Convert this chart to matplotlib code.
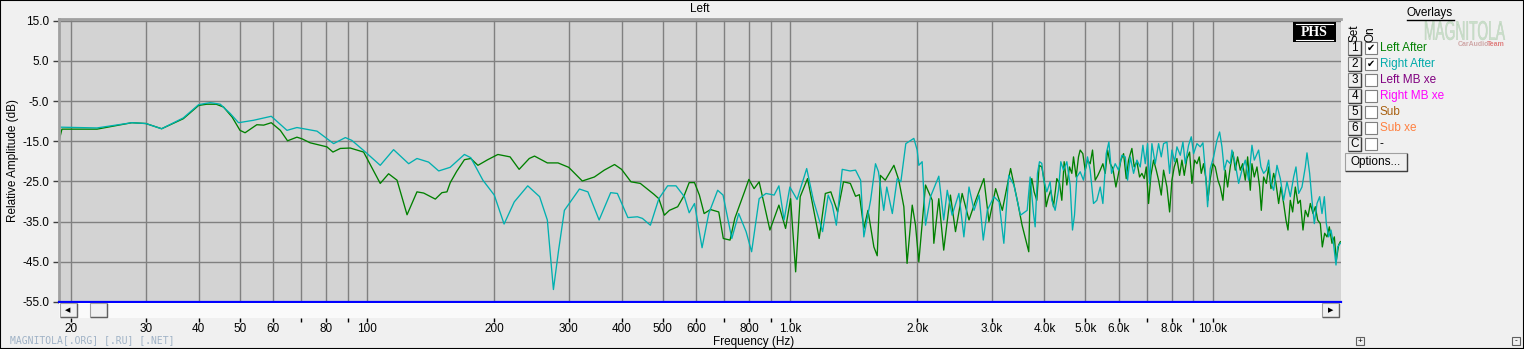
import matplotlib
matplotlib.use('Agg')
import matplotlib.pyplot as plt
from matplotlib.patches import Rectangle, PathPatch
from matplotlib.lines import Line2D
from matplotlib.ticker import NullLocator
from matplotlib.textpath import TextPath
from matplotlib.font_manager import FontProperties
from matplotlib.transforms import Affine2D

# ---------------- data ----------------
left_freq = [18.7, 19.0, 23.0, 27.8, 30.0, 32.7, 36.8, 40.0, 41.8, 44.0, 45.8, 48.0, 50.1, 51.5,
             54.9, 57.0, 59.4, 62.4, 64.9, 68.3, 70.2, 73.4, 80.4, 83.1, 86.5, 91.3, 98.2, 107.5,
             112.5, 117.8, 124.4, 131.3, 136.2, 145.1, 150.4, 154.6, 157.4, 163, 170, 176, 183,
             193, 204, 218, 229, 242, 249, 267, 283, 300, 323, 345, 364, 385, 400, 421, 443, 477,
             490, 505, 519, 543, 563, 578, 595, 611, 627, 649, 679, 696, 722, 741, 781, 800, 823,
             846, 897, 942, 977, 1004, 1032, 1058, 1101, 1127, 1173, 1213, 1250, 1297, 1339, 1390,
             1430, 1460, 1496, 1530, 1580, 1609, 1637, 1681, 1762, 1810, 1860, 1893, 1947, 1982,
             2018, 2093, 2171, 2190, 2250, 2311, 2397, 2464, 2555, 2652, 2751, 2876, 2956, 3066,
             3180, 3326, 3449, 3541, 3672,
             3700, 3733, 3781, 3836, 3886, 3942, 3993, 4036, 4088, 4140, 4201, 4278, 4341, 4396,
             4452, 4518, 4584, 4642, 4685, 4753, 4814, 4858, 4929, 4992, 5056, 5130, 5196, 5272,
             5349, 5418, 5497, 5568, 5639, 5721, 5805, 5901, 5987, 6064, 6153, 6243, 6322, 6438,
             6520, 6616, 6713, 6799, 6886, 6961, 7050, 7140, 7245, 7351, 7445, 7554, 7650, 7791,
             7905, 8006, 8108, 8227, 8347, 8454, 8562, 8687, 8814, 8927, 9058, 9174, 9291, 9392,
             9512, 9634, 9740, 9864, 10009, 10137, 10285, 10417, 10569, 10704, 10841, 11000, 11161,
             11304, 11448, 11616, 11765, 11937, 12090, 12266, 12378, 12536, 12720, 12906, 13024,
             13190, 13384, 13555, 13728, 13929, 14107, 14314, 14497, 14709, 14897, 15060, 15252,
             15448, 15674, 15903, 16106, 16342, 16551, 16793, 17008, 17257, 17478, 17701, 17960,
             18156, 18389, 18624, 18862, 19138, 19383, 19596, 19846, 20027]
left_db = [-15.0, -12.0, -12.0, -10.4, -10.6, -11.9, -9.4, -6.1, -5.8, -5.8, -6.5, -9.0, -12.3, -12.9,
           -10.9, -11.0, -10.4, -12.3, -14.9, -14.0, -14.4, -15.4, -16.4, -17.7, -16.8, -16.7, -17.7, -25.5,
           -23.1, -24.7, -33.3, -27.6, -27.9, -29.4, -27.8, -27.6, -25.3, -22.5, -19.6, -19.3, -21.0,
           -19.6, -18.3, -18.9, -22.0, -19.3, -18.7, -20.4, -20.4, -21.5, -24.9, -23.9, -22.2, -20.8, -22.0, -25.1, -25.5, -28.2,
           -29.3, -33.4, -32.2, -31.3, -28.4, -25.3, -25.3, -28.4, -33.0, -32.0, -32.6, -39.2, -39.6, -34.2, -27.6, -24.5, -26.8,
           -25.1, -37.1, -30.9, -36.7, -29.3, -47.5, -28.8, -24.3, -29.7, -39.2, -28.0, -27.6, -32.6, -25.1, -25.5,
           -28.7, -28.3, -36.7, -32.2, -41.3, -43.5, -23.5, -24.7, -21.0, -24.7, -31.3, -45.4, -30.9, -35.9,
           -45.0, -25.9, -29.7, -40.4, -29.3, -42.1, -28.4, -37.5, -28.0, -34.6, -29.7, -24.3, -35.0, -26.8,
           -32.2, -21.8, -29.7, -35.9, -42.5,
           -27.2, -24.3, -27.6, -29.7, -21.0, -21.4, -24.7, -31.3, -28.8, -27.2, -31.3, -24.3, -25.5, -29.7,
           -20.1, -25.9, -21.4, -23.0, -18.9, -23.9, -18.9, -17.2, -18.1, -22.2, -19.7, -20.6, -17.2, -24.7,
           -23.5, -22.2, -20.6, -23.0, -17.2, -20.6, -21.8, -26.4, -23.0, -19.7, -18.1, -24.3, -19.7, -16.8,
           -21.4, -20.1, -23.9, -23.0, -24.3, -21.4, -30.5, -23.5, -19.7, -22.2, -24.7, -28.4, -22.2, -26.4,
           -32.6, -24.7, -21.4, -19.3, -23.5, -19.7, -23.5, -19.3, -17.7, -25.5, -19.7, -20.6, -18.9, -23.0,
           -20.6, -24.3, -29.7, -24.3, -20.6, -21.4, -24.7, -26.4, -29.7, -22.2, -26.4, -21.4, -17.7,
           -22.2, -18.9, -22.2, -20.6, -24.7, -18.9, -27.2, -20.6, -23.9, -21.4, -26.4, -32.2,
           -23.9, -25.5, -21.4, -26.8, -23.0, -25.5, -30.5, -26.4, -30.5, -34.6, -37.1, -29.7,
           -32.6, -26.4, -30.5, -29.7, -37.1, -32.2, -33.8, -30.5, -33.0, -31.3, -34.6, -35.5,
           -41.3, -37.9, -38.8, -36.3, -40.4, -38.8, -44.6, -40.8, -40.0]

right_freq = [18.7, 23.0, 27.8, 30.0, 32.7, 36.8, 40.0, 42.6, 45.0, 47.5, 49.7, 53.9, 59.4, 64.7,
              68.3, 76.2, 83.4, 88.9, 92.1, 98.2, 107.5, 115.6, 125.5, 131.3, 139.9, 147.8, 157.3,
              170, 176, 188, 200, 211, 223, 240, 256, 267, 276, 284, 293, 318, 333, 354, 377, 391,
              414, 436, 448, 468, 490, 514, 538, 563, 578, 595, 620, 643, 675, 695, 729, 757, 788,
              812, 846, 878, 918, 942, 969, 1000, 1040, 1096, 1137, 1195, 1232, 1260, 1288, 1330,
              1388, 1430, 1470, 1496, 1552, 1594, 1620, 1667, 1695, 1747, 1794, 1830, 1880, 1964,
              2000, 2018, 2055, 2093, 2151, 2250, 2311, 2356, 2419, 2510, 2579, 2652, 2726, 2802,
              2866, 2930, 3038, 3124, 3206, 3293, 3386, 3510, 3640,
              3700, 3768, 3802, 3850, 3893, 3942, 3978, 4051, 4125, 4163, 4239, 4317, 4372, 4436,
              4518, 4600, 4659, 4710, 4771, 4858, 4947, 5056, 5130, 5224, 5320, 5418, 5497, 5598,
              5680, 5763, 5879, 5987, 6097, 6209, 6288, 6380, 6497, 6616, 6737, 6836, 6923, 7012,
              7089, 7179, 7311, 7445, 7554, 7650, 7791, 7905, 8006, 8123, 8227, 8378, 8500, 8609,
              8766, 8895, 9008, 9174, 9342, 9478, 9600, 9722, 9864, 10045, 10229, 10379, 10512,
              10646, 10802, 11000, 11100, 11304, 11511, 11722, 11937, 12156, 12378, 12536, 12836,
              13000, 13190, 13384, 13555, 13728, 13929, 14184, 14444, 14709, 14978, 15252, 15532,
              15730, 15960, 16253, 16551, 16702, 16946, 17163, 17382, 17637, 17895, 18124, 18356,
              18557, 18794, 19034, 19313, 19560, 19738, 20027]
right_db = [-11.5, -11.7, -10.4, -10.6, -11.9, -9.2, -5.9, -5.4, -5.8, -8.1, -10.4, -9.8, -8.8, -12.3,
            -11.6, -12.5, -15.6, -14.1, -14.8, -17.3, -21.0, -17.1, -20.6, -19.3, -20.2, -22.4, -21.5,
            -18.3, -19.1, -24.7, -28.4, -35.6, -30.1, -26.1, -28.8, -34.6, -51.9, -42.0, -32.2, -26.9, -27.6, -34.6, -27.8, -28.0,
            -34.0, -33.8, -34.2, -35.9, -29.3, -26.1, -26.1, -28.8, -32.8, -30.5, -41.5, -33.0, -27.2, -28.4, -39.2, -33.0, -37.5,
            -42.5, -29.3, -28.0, -28.4, -26.1, -34.6, -26.4, -29.5, -21.8, -29.7, -37.5, -28.4, -30.9, -35.9, -22.0,
            -22.4, -22.2, -24.7, -38.8, -29.7, -20.6, -22.6, -32.2, -26.4, -33.0, -24.3, -25.1, -15.6, -14.3,
            -17.2, -21.0, -20.1, -35.9, -28.8, -23.7, -34.6, -27.2, -33.4, -28.0, -38.8, -26.4, -32.2, -28.4,
            -39.6, -32.2, -28.8, -30.1, -40.4, -23.5, -25.9, -33.4, -32.2,
            -23.9, -33.0, -36.3, -23.0, -20.1, -20.5, -24.3, -27.6, -25.1, -29.7, -32.2, -27.2, -20.1, -22.2,
            -20.1, -25.9, -37.1, -33.4, -23.9, -22.6, -24.7, -18.9, -22.2, -30.5, -29.7, -26.4, -30.5, -18.1,
            -15.2, -23.0, -20.6, -22.2, -18.5, -18.9, -24.7, -18.9, -23.0, -19.7, -21.4, -16.0, -20.6, -15.6,
            -25.5, -15.6, -20.6, -15.6, -18.9, -15.6, -15.2, -23.0, -17.2, -20.1, -16.4, -18.5, -15.2, -20.6,
            -16.0, -13.9, -18.1, -15.6, -16.4, -15.4, -22.2, -31.3, -21.8, -18.9, -14.8, -12.7, -16.4,
            -22.2, -19.7, -20.6, -17.2, -20.6, -25.5, -22.2, -19.7, -24.7, -16.0, -19.7, -17.2,
            -21.4, -23.0, -22.2, -19.7, -25.5, -27.2, -21.0, -24.3, -29.7, -25.1, -28.8, -23.9,
            -21.4, -28.0, -26.4, -21.4, -17.9, -23.0, -29.7, -35.5, -30.5, -28.8, -33.0, -28.8,
            -35.5, -38.8, -37.1, -40.8, -45.8, -41.3, -40.4]

grid_freqs = [20, 30, 40, 50, 60, 70, 80, 90, 100, 200, 300, 400, 500, 600, 700, 800, 900,
              1000, 2000, 3000, 4000, 5000, 6000, 7000, 8000, 9000, 10000]
grid_labels = ['20', '30', '40', '50', '60', '', '80', '', '100', '200', '300', '400', '500', '600', '',
               '800', '', '1.0k', '2.0k', '3.0k', '4.0k', '5.0k', '6.0k', '', '8.0k', '', '10.0k']
y_ticks = [15, 5, -5, -15, -25, -35, -45, -55]

overlay_ids = ['1', '2', '3', '4', '5', '6', 'C']
overlay_names = ['Left After', 'Right After', 'Left MB xe', 'Right MB xe', 'Sub', 'Sub xe', '-']
overlay_colors = ['#008000', '#00AAAA', '#800080', '#FF00FF', '#A86010', '#FF8040', '#000000']
overlay_on = [True, True, False, False, False, False, False]

# ---------------- figure ----------------
W, H = 1524, 349
plt.rcParams['font.family'] = ['Liberation Sans', 'DejaVu Sans']
FS = 8.5
fig = plt.figure(figsize=(W / 100, H / 100), dpi=100, facecolor='#F0F0F0')


def fx(x):
    return x / W


def fy(y):
    return 1 - y / H


def prect(x0, y0, x1, y1, **kw):
    r = Rectangle((fx(x0), fy(y1)), (x1 - x0) / W, (y1 - y0) / H, transform=fig.transFigure, **kw)
    fig.add_artist(r)
    return r


def pline(xs, ys, **kw):
    fig.add_artist(Line2D([fx(v) for v in xs], [fy(v) for v in ys], transform=fig.transFigure, **kw))


PX0, PX1, PY0, PY1 = 59, 1341, 19, 302
ax = fig.add_axes([fx(PX0), fy(PY1), (PX1 - PX0) / W, (PY1 - PY0) / H])
ax.set_facecolor('#D3D3D3')
ax.set_xscale('log')
ax.set_xlim(18.7, 20100)
ax.set_ylim(-55, 15.4)
ax.set_xticks(grid_freqs)
ax.set_xticklabels([''] * len(grid_freqs))
ax.xaxis.set_minor_locator(NullLocator())
ax.tick_params(axis='x', length=0)
ax.set_yticks(y_ticks)
ax.set_yticklabels(['%.1f' % v for v in y_ticks], fontsize=FS)
ax.tick_params(axis='y', length=4, width=1, color='#404040', pad=3)
ax.grid(True, color='#808080', lw=1.0)
ax.set_axisbelow(True)
for s in ['right', 'bottom']:
    ax.spines[s].set_visible(False)
ax.spines['left'].set_color('#A0A0A0')
ax.spines['left'].set_linewidth(2)
ax.spines['top'].set_color('#A0A0A0')
ax.spines['top'].set_linewidth(2)

ax.plot(left_freq, left_db, color='#008000', lw=0.95)
ax.plot(right_freq, right_db, color='#00B0B0', lw=0.95)
ax.axhline(-55, color='#0000FF', lw=1.6, clip_on=False, zorder=5)

# scrollbar strip with frequency ticks
sb = fig.add_axes([fx(PX0), fy(318), (PX1 - PX0) / W, (318 - 303) / H])
sb.set_facecolor('#FAFAFA')
sb.set_xscale('log')
sb.set_xlim(18.7, 20100)
sb.set_ylim(0, 1)
sb.set_yticks([])
sb.set_xticks(grid_freqs)
sb.set_xticklabels(grid_labels, fontsize=FS)
sb.xaxis.set_minor_locator(NullLocator())
sb.tick_params(axis='x', length=3, width=1, color='#000000', pad=0.5)
for s in sb.spines.values():
    s.set_visible(False)

# scrollbar buttons
for (a, b) in [(60, 77), (90, 107), (1322, 1339)]:
    prect(a, 303, b, 317, facecolor='#F0F0F0', edgecolor='#A0A0A0', lw=0.8)
    pline([a + 1, b, b], [317, 317, 304], color='#606060', lw=1)
fig.text(fx(68), fy(310), '\u25C0', fontsize=5, ha='center', va='center', family='DejaVu Sans')
fig.text(fx(1331), fy(310), '\u25B6', fontsize=5, ha='center', va='center', family='DejaVu Sans')

# texts
fig.text(fx(700), fy(9), 'Left', ha='center', va='center', fontsize=FS)
fig.text(fx(13), fy(160), 'Relative Amplitude (dB)', rotation=90, ha='center', va='center', fontsize=FS)
fig.text(fx(754), fy(342), 'Frequency (Hz)', ha='center', va='center', fontsize=FS)
fig.text(fx(10), fy(340), 'MAGNITOLA[.ORG] [.RU] [.NET]', ha='left', va='center', fontsize=7.0,
         color='#9FB2C6', family='DejaVu Sans Mono')

# PHS badge
prect(1293, 22, 1336, 42, facecolor='black', edgecolor='none')
fig.text(fx(1314.5), fy(32.5), 'PHS', ha='center', va='center', color='white', fontsize=10,
         fontweight='bold', family='Liberation Serif')
pline([1296, 1333], [24, 24], color='white', lw=0.8)
pline([1296, 1333], [40, 40], color='white', lw=0.8)

# watermark logo (condensed tall lettering)
tp = TextPath((0, 0), 'MAGNITOLA', size=10, prop=FontProperties(family='Liberation Sans'))
ext = tp.get_extents()
sx = 80.0 / ext.width
sy = 19.0 / ext.height
logo_tr = Affine2D().translate(-ext.x0, -ext.y0).scale(sx, sy).translate(1425, H - 40)
fig.add_artist(PathPatch(tp, transform=logo_tr, facecolor='#CADFCA', edgecolor='#B8D0B8', lw=0.3))
fig.text(fx(1473), fy(45), 'CarAudio', ha='center', va='center', fontsize=5, color='#D0A8A8',
         fontweight='bold')
fig.text(fx(1496), fy(45), 'Team', ha='center', va='center', fontsize=5, color='#E08080',
         fontweight='bold')

# overlays panel
fig.text(fx(1430), fy(13), 'Overlays', ha='center', va='center', fontsize=FS)
pline([1407, 1454], [20, 20], color='black', lw=1)
fig.text(fx(1354), fy(33), 'Set', rotation=90, ha='center', va='center', fontsize=FS)
fig.text(fx(1370), fy(34), 'On', rotation=90, ha='center', va='center', fontsize=FS)
for i, (oid, name, col, on) in enumerate(zip(overlay_ids, overlay_names, overlay_colors, overlay_on)):
    yc = 48 + 16 * i
    prect(1348, yc - 7, 1361, yc + 7, facecolor='#F0F0F0', edgecolor='#808080', lw=0.8)
    pline([1349, 1361, 1361], [yc + 7, yc + 7, yc - 6], color='#404040', lw=1)
    fig.text(fx(1354.5), fy(yc), oid, ha='center', va='center', fontsize=FS)
    prect(1365, yc - 6, 1377, yc + 6, facecolor='white', edgecolor='#808080', lw=0.8)
    if on:
        fig.text(fx(1371), fy(yc), '\u2714', ha='center', va='center', fontsize=7, family='DejaVu Sans')
    fig.text(fx(1380), fy(yc), name, ha='left', va='center', fontsize=FS, color=col)

prect(1345, 153, 1407, 171, facecolor='#F0F0F0', edgecolor='#A0A0A0', lw=0.8)
pline([1346, 1407, 1407], [171, 171, 154], color='#404040', lw=1)
fig.text(fx(1376), fy(162), 'Options...', ha='center', va='center', fontsize=FS)

# small +/- buttons
for xc, t in [(1360, '+'), (1516, '-')]:
    prect(xc - 4, 337, xc + 4, 345, facecolor='#F0F0F0', edgecolor='#606060', lw=0.8)
    fig.text(fx(xc), fy(341), t, ha='center', va='center', fontsize=6)

# window border
fig.add_artist(Rectangle((0, 0), 1, 1, transform=fig.transFigure, fill=False, edgecolor='black', lw=1.5))

fig.savefig('out.png', dpi=100, facecolor=fig.get_facecolor())
